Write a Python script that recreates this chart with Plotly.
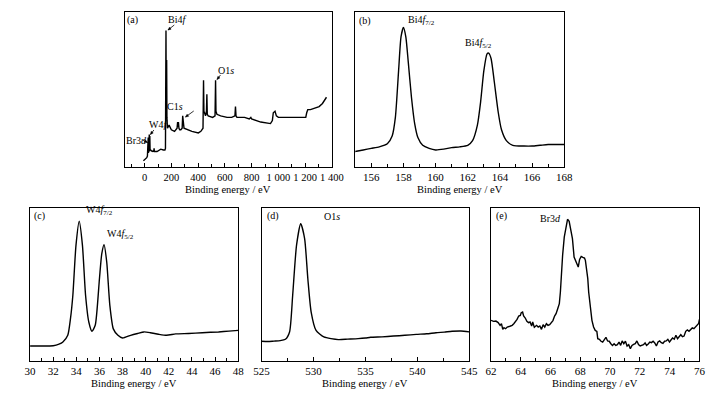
import math
import plotly.graph_objects as go

FONT = "Liberation Serif"

# ---------------- (a) survey spectrum ----------------
survey_energy = [-10, 5, 15, 20, 22, 24, 26, 28, 30, 32, 34, 36, 38, 40, 44, 56, 68, 70, 72, 92,
                 110, 120, 139, 151, 155, 157, 159, 160.5, 162, 164, 166, 170, 182, 199, 223, 242,
                 246, 249, 252, 256, 262, 270, 280, 284, 288, 294, 353, 401, 420, 436, 440, 443,
                 455, 462, 465, 468, 475, 508, 526, 530, 533, 540, 568, 616, 651, 675, 679, 683,
                 690, 747, 782, 794, 800, 868, 941, 955, 962, 975, 985, 1000, 1044, 1150, 1205,
                 1212, 1220, 1240, 1270, 1305, 1330, 1360]
survey_intensity = [0.04, 0.05, 0.06, 0.07, 0.16, 0.08, 0.19, 0.09, 0.17, 0.10, 0.21, 0.10, 0.20,
                    0.11, 0.11, 0.10, 0.105, 0.12, 0.10, 0.10, 0.11, 0.115, 0.11, 0.11, 0.12, 0.45,
                    0.88, 0.50, 0.42, 0.69, 0.32, 0.25, 0.27, 0.24, 0.23, 0.25, 0.29, 0.26, 0.29,
                    0.25, 0.24, 0.24, 0.25, 0.33, 0.26, 0.25, 0.23, 0.22, 0.23, 0.25, 0.56, 0.36,
                    0.33, 0.36, 0.47, 0.34, 0.33, 0.32, 0.33, 0.56, 0.36, 0.34, 0.33, 0.32, 0.32,
                    0.33, 0.39, 0.33, 0.32, 0.32, 0.31, 0.32, 0.31, 0.29, 0.28, 0.30, 0.35, 0.36,
                    0.33, 0.32, 0.32, 0.32, 0.32, 0.35, 0.37, 0.37, 0.38, 0.39, 0.41, 0.45]
survey_ticks = [0, 200, 400, 600, 800, 1000, 1200, 1400]
survey_ticktext = ["0", "200", "400", "600", "800", "1 000", "1 200", "1 400"]

# ---------------- (b) Bi4f ----------------
bi_energy = [155.0, 155.5, 156.0, 156.5, 157.0, 157.3, 157.5, 157.7, 157.85, 158.0, 158.15, 158.3,
             158.5, 158.7, 158.9, 159.2, 159.6, 160.0, 160.5, 161.0, 161.5, 162.0, 162.3, 162.6,
             162.8, 163.0, 163.2, 163.3, 163.45, 163.65, 163.9, 164.1, 164.4, 164.8, 165.5,
             166.0, 166.5, 167.0, 168.0]
bi_intensity = [0.10, 0.11, 0.12, 0.13, 0.15, 0.20, 0.32, 0.62, 0.84, 0.90, 0.84, 0.68, 0.45,
                0.28, 0.19, 0.14, 0.12, 0.11, 0.115, 0.125, 0.13, 0.14, 0.17, 0.27, 0.42, 0.62,
                0.73, 0.735, 0.70, 0.55, 0.35, 0.24, 0.17, 0.14, 0.135, 0.135, 0.14, 0.145, 0.145]
bi_ticks = [156, 158, 160, 162, 164, 166, 168]

# ---------------- (c) W4f ----------------
w_energy = [30.0, 31.0, 32.0, 32.5, 32.84, 33.26, 33.5, 33.7, 33.97, 34.25, 34.53, 34.8, 35.08,
            35.36, 35.64, 36.0, 36.2, 36.4, 36.63, 36.9, 37.2, 37.6, 38.0, 38.7, 39.3, 39.85,
            40.4, 41.1, 41.8, 42.6, 43.7, 44.9, 46.3, 47.2, 48.0]
w_intensity = [0.098, 0.098, 0.100, 0.110, 0.124, 0.168, 0.28, 0.43, 0.756, 0.913, 0.756, 0.43,
               0.255, 0.194, 0.235, 0.538, 0.70, 0.76, 0.647, 0.364, 0.21, 0.168, 0.15, 0.168,
               0.18, 0.19, 0.185, 0.175, 0.168, 0.177, 0.18, 0.185, 0.19, 0.195, 0.20]
w_ticks = [30, 32, 34, 36, 38, 40, 42, 44, 46, 48]

# ---------------- (d) O1s ----------------
o_energy = [525.0, 525.6, 526.2, 526.8, 527.3, 527.7, 528.0, 528.37, 528.77, 529.15, 529.46,
            529.78, 530.25, 531.0, 532.4, 533.3, 534.3, 535.0, 535.5, 536.6, 537.7, 538.8,
            539.9, 540.9, 541.8, 542.6, 543.35, 544.2, 545.0]
o_intensity = [0.129, 0.127, 0.130, 0.133, 0.142, 0.19, 0.43, 0.756, 0.898, 0.80, 0.538, 0.32,
               0.20, 0.157, 0.14, 0.143, 0.146, 0.150, 0.155, 0.158, 0.163, 0.168, 0.174, 0.178,
               0.185, 0.189, 0.194, 0.196, 0.19]
o_ticks = [525, 530, 535, 540, 545]

# ---------------- (e) Br3d ----------------
br_energy = [62.00, 62.17, 62.33, 62.48, 62.61, 62.70, 62.79, 62.87, 62.98, 63.09, 63.27, 63.42,
             63.53, 63.66, 63.75, 63.86, 63.97, 64.03, 64.12, 64.19, 64.30, 64.41, 64.52, 64.62,
             64.73, 64.80, 64.91, 65.06, 65.17, 65.28, 65.39, 65.50, 65.61, 65.72, 65.83, 65.94,
             66.05, 66.16, 66.27, 66.37, 66.48, 66.59, 66.66, 66.72, 66.81, 66.92, 67.03, 67.14,
             67.25, 67.36, 67.47, 67.58, 67.69, 67.80, 67.86, 67.95, 68.06, 68.17, 68.28, 68.34,
             68.41, 68.50, 68.56, 68.67, 68.78, 68.89, 69.00, 69.11, 69.17, 69.28, 69.39, 69.50,
             69.61, 69.72, 69.83, 69.94, 70.05, 70.16, 70.27, 70.38, 70.49, 70.60, 70.71, 70.81,
             70.92, 71.03, 71.14, 71.25, 71.36, 71.47, 71.58, 71.69, 71.80, 71.91, 72.02, 72.13,
             72.24, 72.35, 72.45, 72.56, 72.67, 72.78, 72.89, 73.00, 73.11, 73.22, 73.33, 73.44,
             73.55, 73.66, 73.77, 73.88, 73.99, 74.10, 74.20, 74.31, 74.42, 74.53, 74.64, 74.75,
             74.86, 74.97, 75.08, 75.19, 75.30, 75.41, 75.52, 75.63, 75.74, 75.85, 75.95, 76.00]
br_intensity = [0.266, 0.259, 0.261, 0.251, 0.233, 0.244, 0.207, 0.218, 0.211, 0.222, 0.227, 0.233,
                0.244, 0.259, 0.272, 0.294, 0.298, 0.316, 0.320, 0.294, 0.281, 0.259, 0.251, 0.255,
                0.229, 0.255, 0.220, 0.233, 0.222, 0.229, 0.207, 0.237, 0.222, 0.244, 0.233, 0.237,
                0.251, 0.264, 0.294, 0.309, 0.342, 0.375, 0.451, 0.560, 0.691, 0.810, 0.876, 0.926,
                0.913, 0.865, 0.800, 0.680, 0.651, 0.636, 0.614, 0.664, 0.684, 0.678, 0.673, 0.658,
                0.614, 0.538, 0.451, 0.342, 0.266, 0.222, 0.200, 0.194, 0.146, 0.142, 0.129, 0.124,
                0.142, 0.155, 0.131, 0.129, 0.113, 0.102, 0.113, 0.102, 0.107, 0.124, 0.102, 0.131,
                0.113, 0.129, 0.098, 0.107, 0.081, 0.102, 0.109, 0.113, 0.131, 0.107, 0.098, 0.102,
                0.107, 0.118, 0.102, 0.111, 0.124, 0.120, 0.129, 0.118, 0.098, 0.124, 0.131, 0.120,
                0.115, 0.129, 0.131, 0.142, 0.124, 0.139, 0.150, 0.142, 0.168, 0.146, 0.157, 0.172,
                0.159, 0.163, 0.194, 0.203, 0.194, 0.207, 0.216, 0.211, 0.222, 0.233, 0.246, 0.272]
br_ticks = [62, 64, 66, 68, 70, 72, 74, 76]

W, H = 726, 395


def px(x):
    return x / W


def py(y):
    return 1 - y / H


top_y = [py(167), py(12)]
bot_y = [py(361), py(208)]

panels = [
    dict(e=survey_energy, i=survey_intensity, xd=[px(120), px(333)], yd=top_y, rng=[-150, 1400],
         tv=survey_ticks, tt=survey_ticktext, minor=100, shape="linear"),
    dict(e=bi_energy, i=bi_intensity, xd=[px(357), px(572)], yd=top_y, rng=[155, 168],
         tv=bi_ticks, tt=[str(v) for v in bi_ticks], minor=1, shape="spline"),
    dict(e=w_energy, i=w_intensity, xd=[px(22.7), px(236.7)], yd=bot_y, rng=[30, 48],
         tv=w_ticks, tt=[str(v) for v in w_ticks], minor=1, shape="spline"),
    dict(e=o_energy, i=o_intensity, xd=[px(260.7), px(474.3)], yd=bot_y, rng=[525, 545],
         tv=o_ticks, tt=[str(v) for v in o_ticks], minor=2.5, shape="spline"),
    dict(e=br_energy, i=br_intensity, xd=[px(496.7), px(711)], yd=bot_y, rng=[62, 76],
         tv=br_ticks, tt=[str(v) for v in br_ticks], minor=1, shape="linear"),
]

fig = go.Figure()
layout = dict(
    width=W, height=H, margin=dict(l=0, r=0, t=0, b=0),
    paper_bgcolor="white", plot_bgcolor="white", showlegend=False,
    font=dict(family=FONT, size=11, color="black"),
)

for k, p in enumerate(panels, start=1):
    sfx = "" if k == 1 else str(k)
    fig.add_trace(go.Scatter(x=p["e"], y=p["i"], mode="lines",
                             line=dict(color="black", width=1.4, shape=p["shape"], smoothing=0.6),
                             xaxis="x" + sfx, yaxis="y" + sfx, hoverinfo="skip"))
    layout["xaxis" + sfx] = dict(
        domain=p["xd"], range=p["rng"], anchor="y" + sfx,
        showline=True, mirror=True, linecolor="black", linewidth=1,
        ticks="inside", ticklen=4, tickwidth=1, tickcolor="black",
        tickmode="array", tickvals=p["tv"], ticktext=p["tt"], tickangle=0,
        minor=dict(ticks="inside", ticklen=3, tickwidth=1, tickcolor="black",
                   tickmode="linear", tick0=p["rng"][0] if k != 1 else 0, dtick=p["minor"]),
        showgrid=False, zeroline=False,
        tickfont=dict(family=FONT, size=11 if k != 1 else 10.5, color="black"),
    )
    layout["yaxis" + sfx] = dict(
        domain=p["yd"], range=[0, 1], anchor="x" + sfx,
        showline=True, mirror=True, linecolor="black", linewidth=1,
        ticks="", showticklabels=False, showgrid=False, zeroline=False,
    )

fig.update_layout(**layout)

ann = []
shapes = []


def label(text, x, y, size=10, xanchor="center"):
    ann.append(dict(text=text, x=px(x), y=py(y), xref="paper", yref="paper",
                    showarrow=False, xanchor=xanchor, yanchor="middle",
                    font=dict(family=FONT, size=size, color="black")))


def arrow(x0, y0, x1, y1):
    """Small pointer line from (x0,y0) to (x1,y1) in pixels, with a tiny head."""
    shapes.append(dict(type="line", xref="paper", yref="paper",
                       x0=px(x0), y0=py(y0), x1=px(x1), y1=py(y1),
                       line=dict(color="black", width=0.8)))
    dx, dy = x1 - x0, y1 - y0
    d = math.hypot(dx, dy)
    ux, uy = dx / d, dy / d
    bx, by = x1 - 3 * ux, y1 - 3 * uy
    lx, ly = bx - 1.3 * uy, by + 1.3 * ux
    rx, ry = bx + 1.3 * uy, by - 1.3 * ux
    path = "M {:.4f} {:.4f} L {:.4f} {:.4f} L {:.4f} {:.4f} Z".format(
        px(x1), py(y1), px(lx), py(ly), px(rx), py(ry))
    shapes.append(dict(type="path", xref="paper", yref="paper", path=path,
                       fillcolor="black", line=dict(color="black", width=0.5)))


# axis titles
for cx, cy in [(226.5, 189), (464.5, 189), (129.7, 383), (367.5, 383), (603.8, 383)]:
    label("Binding energy / eV", cx, cy, size=10.5)

# panel (a)
label("(a)", 128, 20)
label("Bi4<i>f</i>", 162, 19, xanchor="left")
label("O1<i>s</i>", 214, 70, xanchor="left")
label("C1<i>s</i>", 161, 106, xanchor="left")
label("W4<i>f</i>", 143, 124, xanchor="left")
label("Br3<i>d</i>", 119, 140, xanchor="left")
arrow(171, 25, 164.5, 30)
arrow(218.5, 75, 215, 79.5)
arrow(191, 111, 182.5, 117)
arrow(150, 130, 146.5, 134.5)
arrow(137.5, 139.5, 143.5, 142.5)

# panel (b)
label("(b)", 367, 21)
label("Bi4<i>f</i><sub>7/2</sub>", 409, 20, xanchor="left")
label("Bi4<i>f</i><sub>5/2</sub>", 468, 43, xanchor="left")

# panel (c)
label("(c)", 32, 216)
label("W4<i>f</i><sub>7/2</sub>", 78, 211, xanchor="left")
label("W4<i>f</i><sub>5/2</sub>", 100, 235, xanchor="left")

# panel (d)
label("(d)", 272, 216)
label("O1<i>s</i>", 323, 216, xanchor="left")

# panel (e)
label("(e)", 507, 216)
label("Br3<i>d</i>", 545, 219, xanchor="left")

fig.update_layout(annotations=ann, shapes=shapes)
fig.write_html("out.html", config={"displayModeBar": False},
               post_script="document.body.style.margin='0px';document.body.style.overflow='hidden';")
